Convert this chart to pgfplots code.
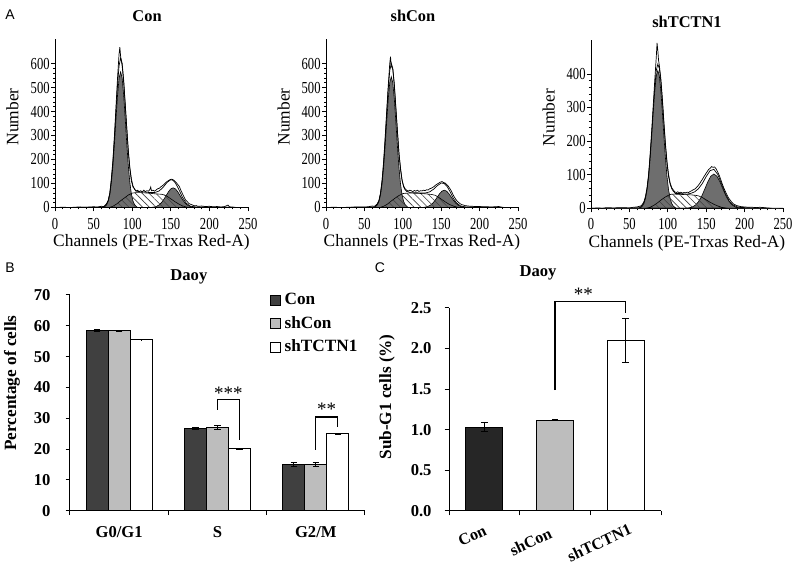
\documentclass[border=0pt]{standalone}
\usepackage{fontspec}
\setmainfont{Liberation Serif}
\setsansfont{Liberation Sans}
\newfontfamily\tickfont[FakeStretch=0.75]{Liberation Serif}
\usepackage{pgfplots}
\pgfplotsset{compat=1.18}
\usetikzlibrary{patterns.meta}

\definecolor{peak}{HTML}{6E6E6E}
\definecolor{conbar}{HTML}{404040}
\definecolor{shconbar}{HTML}{BDBDBD}
\definecolor{conbarC}{HTML}{262626}

\pgfplotsset{
 every axis title shift=0pt,
 histo/.style={
  scale only axis, anchor=south west,
  width=96pt, height=84pt,
  xmin=0, xmax=250, ymin=0,
  axis lines=left, axis line style={-, line width=0.45pt},
  xtick={0,50,...,250}, minor x tick num=4, minor y tick num=4,
  tick align=outside, major tick length=2pt, minor tick length=1pt,
  tick style={line width=0.35pt, black},
  /pgf/number format/assume math mode=true,
  tick label style={font=\tickfont\fontsize{8.4}{9}\selectfont, inner sep=0.5pt},
  xticklabel style={yshift=-2.5pt},
  xlabel={Channels (PE-Trxas Red-A)}, ylabel={Number},
  label style={font=\fontsize{8.7}{10}\selectfont},
  xlabel style={at={(axis description cs:0.5,-0.21)}, anchor=center},
  ylabel style={at={(axis description cs:-0.22,0.54)}, anchor=center},
  title style={font=\bfseries\fontsize{8.2}{9}\selectfont, anchor=center},
 },
 env/.style={fill=white, draw=black, line width=0.35pt},
 pk/.style={fill=peak, draw=black, line width=0.3pt},
 sph/.style={pattern={Lines[angle=-45,distance=2.4pt,line width=0.3pt]}, pattern color=black!75, draw=black, line width=0.3pt},
 raw/.style={black, line width=0.35pt},
 barax/.style={
  scale only axis, anchor=south west,
  axis lines=left, axis line style={-, line width=0.5pt},
  tick align=outside, major tick length=2.2pt,
  tick style={black, line width=0.5pt},
  /pgf/number format/assume math mode=true,
  tick label style={font=\bfseries\fontsize{8.3}{9}\selectfont},
  label style={font=\bfseries\fontsize{8.6}{10}\selectfont},
  title style={font=\bfseries\fontsize{8.3}{9}\selectfont, anchor=center},
  xticklabels={}, extra x tick style={major tick length=0pt},
  clip=false,
  error bars/y dir=both, error bars/y explicit,
  error bars/error bar style={black, line width=0.5pt},
  error bars/error mark options={rotate=90, mark size=1.6pt, line width=0.5pt, black},
 },
}

\begin{document}
\begin{tikzpicture}
\path[use as bounding box] (0,0) rectangle (400pt,283.5pt);

\node[font=\sffamily\fontsize{7}{8}\selectfont] at (5pt,276pt) {A};
\node[font=\sffamily\fontsize{7}{8}\selectfont] at (5pt,149.5pt) {B};
\node[font=\sffamily\fontsize{7}{8}\selectfont] at (190pt,149.5pt) {C};

% ---------- A1 Con
\begin{axis}[histo, at={(27.5pt,179.75pt)}, width=96.5pt, ymax=700,
  ytick={0,100,...,600}, title={Con},
  title style={at={(axis description cs:0.477,1.14)}}]
\addplot[env] coordinates {(0,0)(55,1)(60,2)(63,2)(65,7)(67,15)(69,29)(71,60)(73,113)(75,189)(77,289)(79,402)(81,510)(83,591)(85,623)(87,601)(89,530)(91,431)(93,327)(95,236)(97,165)(99,118)(101,90)(103,76)(105,69)(110,65)(115,65)(120,63)(125,62)(130,63)(135,69)(140,84)(145,104)(150,116)(153,113)(156,102)(160,78)(165,43)(170,18)(175,6)(180,3)(185,2)(200,2)(210,1)(250,0)} \closedcycle;
\addplot[pk] coordinates {(63,0)(65,5)(67,12)(69,27)(71,55)(73,103)(75,173)(77,265)(79,369)(81,467)(83,539)(85,565)(87,539)(89,467)(91,369)(93,265)(95,173)(97,103)(99,55)(101,27)(103,12)(105,5)(107,0)} \closedcycle;
\addplot[pk] coordinates {(123,0)(126,1)(129,2.4)(132,5.4)(135,11.1)(138,20.4)(141,33.7)(144,49.8)(147,65.7)(150,77.6)(153,82)(156,77.6)(159,65.7)(162,49.8)(165,33.7)(168,20.4)(171,11.1)(174,5.4)(177,2.4)(180,0.9)(183,0)} \closedcycle;
\addplot[sph] coordinates {(70,0)(75,5)(80,15)(85,28)(90,40)(95,52)(100,60)(105,62)(110,62)(120,60)(130,57)(138,55)(142,52)(146,45)(150,36)(155,25)(160,15)(165,7)(170,2)(174,0)} \closedcycle;
\addplot[raw] coordinates {(0,0)(10,1)(20,0)(30,2)(40,1)(50,3)(55,2)(60,5)(63,4)(65,9)(67,17)(69,30)(71,58)(73,120)(75,195)(77,300)(79,420)(81,540)(83,640)(84,668)(85,630)(87,590)(89,520)(91,425)(93,330)(95,230)(97,160)(99,110)(101,85)(103,78)(105,68)(107,72)(109,66)(111,70)(113,64)(115,72)(117,66)(119,70)(121,68)(123,75)(124,85)(125,70)(127,72)(129,68)(131,73)(133,78)(135,80)(137,86)(139,90)(141,96)(143,102)(145,108)(147,112)(149,116)(151,118)(153,116)(155,110)(157,104)(159,96)(161,88)(163,72)(165,58)(167,45)(169,32)(171,26)(173,18)(175,14)(177,12)(179,9)(181,7)(183,8)(185,5)(190,6)(195,4)(200,5)(205,3)(210,4)(215,2)(220,4)(224,10)(226,3)(230,2)(235,0)};
\end{axis}

% ---------- A2 shCon
\begin{axis}[histo, at={(163pt,179.75pt)}, width=96pt, ymax=700,
  ytick={0,100,...,600}, title={shCon},
  title style={at={(axis description cs:0.453,1.14)}}]
\addplot[env] coordinates {(0,0)(55,1)(60,2)(63,2)(65,7)(67,15)(69,29)(71,58)(73,109)(75,182)(77,280)(79,388)(81,492)(83,570)(85,601)(87,580)(89,513)(91,417)(93,316)(95,227)(97,159)(99,114)(101,87)(103,74)(105,67)(110,62)(115,62)(120,61)(125,60)(130,61)(135,65)(140,76)(145,91)(150,102)(154,100)(158,86)(162,63)(166,37)(170,19)(175,7)(180,3)(185,2)(200,2)(210,1)(250,0)} \closedcycle;
\addplot[pk] coordinates {(63,0)(65,5)(67,12)(69,26)(71,53)(73,99)(75,167)(77,256)(79,356)(81,451)(83,520)(85,545)(87,520)(89,451)(91,356)(93,256)(95,167)(97,99)(99,53)(101,26)(103,12)(105,5)(107,0)} \closedcycle;
\addplot[pk] coordinates {(124,0)(127,0.8)(130,2.1)(133,4.8)(136,9.7)(139,17.9)(142,29.6)(145,43.7)(148,57.7)(151,68.1)(154,72)(157,68.1)(160,57.7)(163,43.7)(166,29.6)(169,17.9)(172,9.7)(175,4.8)(178,2.1)(181,0.8)(184,0)} \closedcycle;
\addplot[sph] coordinates {(70,0)(75,5)(80,14)(85,27)(90,39)(95,50)(100,58)(105,60)(110,60)(120,59)(130,57)(138,54)(142,51)(146,44)(150,35)(155,24)(160,14)(165,7)(170,2)(174,0)} \closedcycle;
\addplot[raw] coordinates {(0,0)(10,1)(20,0)(30,1)(40,2)(50,2)(55,3)(60,6)(63,5)(65,10)(67,16)(69,30)(71,60)(73,112)(75,190)(77,290)(79,400)(81,505)(83,600)(84,628)(85,590)(87,575)(89,505)(91,410)(93,320)(95,225)(97,165)(99,115)(101,90)(103,78)(105,72)(107,68)(109,72)(111,70)(113,66)(115,71)(117,68)(119,72)(121,67)(123,70)(125,69)(127,72)(129,70)(131,74)(133,73)(135,78)(137,80)(139,84)(141,88)(143,94)(145,98)(147,102)(149,106)(151,108)(153,104)(155,102)(157,96)(159,90)(161,80)(163,70)(165,56)(167,44)(169,34)(171,26)(173,20)(175,15)(177,12)(179,10)(181,8)(183,7)(185,6)(190,5)(195,4)(200,4)(205,3)(210,3)(215,2)(220,3)(225,4)(228,2)(232,0)};
\end{axis}

% ---------- A3 shTCTN1
\begin{axis}[histo, at={(295.5pt,179.35pt)}, width=96pt, ymax=500,
  ytick={0,100,...,400}, title={shTCTN1},
  title style={at={(axis description cs:0.5,1.109)}}]
\addplot[env] coordinates {(0,0)(55,1)(60,2)(63,2)(65,5)(67,9)(69,17)(71,32)(73,57)(75,96)(77,153)(79,220)(81,293)(83,360)(85,410)(87,429)(89,416)(91,376)(93,316)(95,248)(97,185)(99,132)(101,95)(103,72)(105,59)(107,51)(110,44)(115,44)(120,43)(125,42)(130,44.5)(135,49)(140,58.5)(145,74)(150,94.5)(155,112)(160,116)(165,101)(170,72.5)(175,43)(180,21.5)(185,10)(190,4.5)(195,3)(200,2)(210,1)(250,0)} \closedcycle;
\addplot[pk] coordinates {(63,0)(65,3)(67,7)(69,15)(71,30)(73,55)(75,94)(77,148)(79,213)(81,284)(83,348)(85,394)(87,410)(89,394)(91,348)(93,284)(95,213)(97,148)(99,94)(101,55)(103,30)(105,15)(107,7)(109,3)(111,0)} \closedcycle;
\addplot[pk] coordinates {(124,0)(128,1.5)(132,4)(136,9.4)(140,19.5)(144,35.4)(148,56.3)(152,78.3)(156,95.5)(160,102)(164,95.5)(168,78.3)(172,56.3)(176,35.4)(180,19.5)(184,9.4)(188,4)(192,1.5)(196,0.5)(200,0)} \closedcycle;
\addplot[sph] coordinates {(72,0)(77,3)(82,9)(87,17)(92,26)(97,34)(102,40)(105,42)(110,42)(120,41)(130,40)(135,39)(140,37)(145,32)(150,25)(155,18)(160,12)(165,7)(170,3)(175,1)(178,0)} \closedcycle;
\addplot[raw] coordinates {(0,0)(10,1)(15,0)(20,2)(30,1)(40,2)(50,1)(55,3)(60,4)(63,6)(65,7)(67,12)(69,20)(71,36)(73,62)(75,100)(77,160)(79,230)(81,305)(83,380)(85,450)(86,492)(87,470)(88,440)(89,425)(91,385)(93,325)(95,255)(97,190)(99,138)(101,100)(103,76)(105,62)(107,55)(109,49)(111,47)(113,49)(115,46)(117,48)(119,45)(121,47)(123,46)(125,48)(127,47)(129,50)(131,52)(133,55)(135,57)(137,61)(139,66)(141,72)(143,79)(145,86)(147,94)(149,101)(151,108)(153,115)(155,119)(157,124)(159,122)(161,123)(163,117)(165,108)(167,98)(169,85)(171,72)(173,60)(175,50)(177,40)(179,31)(181,25)(183,19)(185,14)(187,11)(190,8)(195,5)(200,4)(205,3)(210,3)(215,2)(220,3)(225,2)(230,1)(235,0)};
\end{axis}

% ---------- B
\begin{axis}[barax, at={(35pt,28.15pt)}, width=147.5pt, height=107.85pt,
  xmin=-0.5, xmax=2.5, ymin=0, ymax=70,
  xtick={-0.5,0.5,1.5,2.5},
  extra x ticks={0,1,2}, extra x tick labels={G0/G1,S,G2/M},
  x tick label style={yshift=-4.5pt},
  y tick label style={xshift=-4pt},
  ytick={0,10,...,70},
  ybar, bar width=0.224, bar shift=0pt,
  title={Daoy}, title style={at={(axis description cs:0.403,1.083)}},
  ylabel={Percentage of cells},
  ylabel style={at={(axis description cs:-0.197,0.592)}, anchor=center},
  legend image code/.code={\draw[#1, draw=black, line width=0.4pt] (0pt,-2.6pt) rectangle (5.2pt,2.6pt);},
  legend style={draw=none, fill=none, at={(0.675,1.03)}, anchor=north west, inner sep=0pt, row sep=0.4pt,
    font=\bfseries\fontsize{8.6}{10}\selectfont},
  legend cell align=left,
]
\addplot[fill=conbar, draw=black, line width=0.5pt] coordinates {(-0.224,58.4) +- (0,0.3) (0.776,26.8) +- (0,0.3) (1.776,15.0) +- (0,0.6)};
\addplot[fill=shconbar, draw=black, line width=0.5pt] coordinates {(0,58.4) +- (0,0.2) (1,26.9) +- (0,0.7) (2,15.0) +- (0,0.7)};
\addplot[fill=white, draw=black, line width=0.5pt] coordinates {(0.224,55.5) +- (0,0.1) (1.224,20.1) +- (0,0.2) (2.224,25.0) +- (0,0.2)};
\legend{Con,shCon,shTCTN1}
\draw[line width=0.6pt] (axis cs:1.0,32.7) -- (axis cs:1.0,36) -- (axis cs:1.224,36) -- (axis cs:1.224,22.8);
\draw[line width=0.6pt] (axis cs:2.0,19.7) -- (axis cs:2.0,30.4) -- (axis cs:2.224,30.4) -- (axis cs:2.224,27.0);
\node[font=\fontsize{9.5}{10}\selectfont] at (axis cs:1.11,38.2) {***};
\node[font=\fontsize{9.5}{10}\selectfont] at (axis cs:2.11,33.0) {**};
\end{axis}

% ---------- C
\begin{axis}[barax, at={(224.5pt,28pt)}, width=106pt, height=101.5pt,
  xmin=-0.5, xmax=2.5, ymin=0, ymax=2.5,
  xtick={-0.5,0.5,1.5,2.5},
  extra x ticks={0,1,2}, extra x tick labels={Con,shCon\kern3pt,shTCTN1\kern-2pt},
  x tick label style={rotate=25, anchor=north east, yshift=-2.5pt, font=\bfseries\fontsize{8.1}{9}\selectfont},
  y tick label style={xshift=-3pt},
  ytick={0,0.5,...,2.5},
  yticklabel style={/pgf/number format/.cd, fixed, fixed zerofill, precision=1},
  ybar, bar width=0.52, bar shift=0pt,
  title={Daoy}, title style={at={(axis description cs:0.42,1.172)}},
  ylabel={Sub-G1 cells (\%)},
  ylabel style={at={(axis description cs:-0.292,0.562)}, anchor=center},
]
\addplot[fill=conbarC, draw=black, line width=0.5pt] coordinates {(0,1.03) +- (0,0.055)};
\addplot[fill=shconbar, draw=black, line width=0.5pt] coordinates {(1,1.12) +- (0,0.01)};
\addplot[fill=white, draw=black, line width=0.5pt] coordinates {(2,2.10) +- (0,0.27)};
\draw[line width=0.6pt] (axis cs:1.0,1.49) -- (axis cs:1.0,2.58) -- (axis cs:2.0,2.58) -- (axis cs:2.0,2.44);
\node[font=\fontsize{9.5}{10}\selectfont] at (axis cs:1.4,2.67) {**};
\end{axis}
\end{tikzpicture}
\end{document}
